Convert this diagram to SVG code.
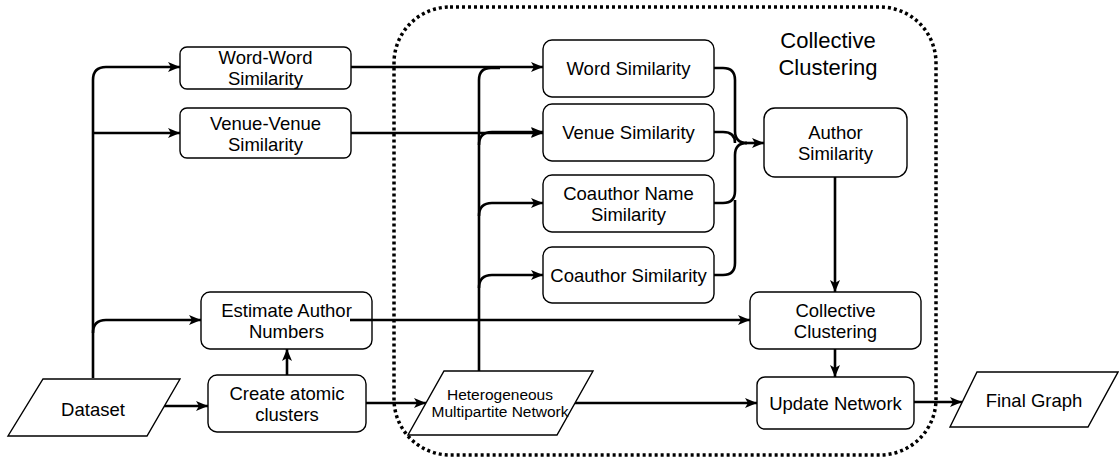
<svg xmlns="http://www.w3.org/2000/svg" width="1119" height="460" viewBox="0 0 1119 460">
  <defs>
    <marker id="arrow" markerUnits="userSpaceOnUse" markerWidth="14" markerHeight="12" refX="12" refY="5" orient="auto">
      <path d="M0,0 L12,5 L0,10 L3,5 Z" fill="#000"/>
    </marker>
    <style>
      .box { fill: #fff; stroke: #000; stroke-width: 1.4; }
      .io { fill: #fff; stroke: #000; stroke-width: 1.4; }
      .lbl { font-family: "Liberation Sans", Arial, sans-serif; font-size: 18.5px; fill: #000; text-anchor: middle; }
      .small { font-size: 15.5px; }
      .title { font-size: 22px; }
      .edge { fill: none; stroke: #000; stroke-width: 2.6; }
      .arr { marker-end: url(#arrow); }
      .group { fill: none; stroke: #000; stroke-width: 3.5; stroke-dasharray: 3 3; }
    </style>
  </defs>

  <rect width="1119" height="460" fill="#fff"/>

  <!-- dotted container for the collective clustering stage -->
  <g id="collective-clustering-group">
    <rect class="group" x="394" y="7" width="542" height="448" rx="56" ry="56"/>
    <text class="lbl title" x="828" y="48">Collective</text>
    <text class="lbl title" x="828" y="75">Clustering</text>
  </g>

  <g id="connectors">
    <!-- Dataset fan-out -->
    <path class="edge arr" d="M93,378 V80 Q93,67 106,67 H180"/>
    <path class="edge arr" d="M93,133 H180"/>
    <path class="edge arr" d="M93,333 Q93,320 106,320 H201"/>
    <path class="edge arr" d="M164,406 H208"/>
    <!-- atomic clusters -->
    <path class="edge arr" d="M287,375 V349"/>
    <path class="edge arr" d="M366,403 H426"/>
    <!-- pairwise similarities into the group -->
    <path class="edge arr" d="M351,67 H543"/>
    <path class="edge arr" d="M351,133 H543"/>
    <!-- network branches -->
    <path class="edge" d="M479,371 V80 Q479,68 491,68 H500"/>
    <path class="edge arr" d="M479,145 Q479,132 492,132 H543"/>
    <path class="edge arr" d="M479,216 Q479,203 492,203 H543"/>
    <path class="edge arr" d="M479,288 Q479,275 492,275 H543"/>
    <!-- similarities merging into author similarity -->
    <path class="edge" d="M714,68 H723 Q735,68 735,80 V131 Q735,143 747,143"/>
    <path class="edge" d="M714,132 H723 Q735,132 735,143"/>
    <path class="edge" d="M714,203 H723 Q735,203 735,191 V155 Q735,143 747,143"/>
    <path class="edge" d="M714,275 H723 Q735,275 735,263 V200"/>
    <path class="edge arr" d="M745,143 H764"/>
    <!-- clustering chain -->
    <path class="edge arr" d="M350,320 H750"/>
    <path class="edge arr" d="M835,177 V292"/>
    <path class="edge arr" d="M835,349 V377"/>
    <path class="edge arr" d="M575,403 H757"/>
    <path class="edge arr" d="M914,402 H962"/>
  </g>

  <g id="dataset">
    <polygon class="io" points="43,379 180,379 147,436 8,436"/>
    <text class="lbl" x="93" y="416">Dataset</text>
  </g>

  <g id="word-word-similarity">
    <rect class="box" x="180" y="47" width="171" height="42" rx="7"/>
    <text class="lbl" x="265.5" y="64">Word-Word</text>
    <text class="lbl" x="265.5" y="85">Similarity</text>
  </g>

  <g id="venue-venue-similarity">
    <rect class="box" x="180" y="108" width="171" height="50" rx="7"/>
    <text class="lbl" x="265.5" y="130">Venue-Venue</text>
    <text class="lbl" x="265.5" y="151">Similarity</text>
  </g>

  <g id="estimate-author-numbers">
    <rect class="box" x="201" y="292" width="171" height="57" rx="9"/>
    <text class="lbl" x="286.5" y="316.5">Estimate Author</text>
    <text class="lbl" x="286.5" y="337.5">Numbers</text>
  </g>
  <!-- the outgoing edge starts inside the box, over its label -->
  <path class="edge" d="M350,320 H372"/>

  <g id="create-atomic-clusters">
    <rect class="box" x="208" y="375" width="158" height="57" rx="9"/>
    <text class="lbl" x="287" y="400">Create atomic</text>
    <text class="lbl" x="287" y="421">clusters</text>
  </g>

  <g id="heterogeneous-network">
    <polygon class="io" points="444,371 593,371 557,435 408,435"/>
    <text class="lbl small" x="500" y="400">Heterogeneous</text>
    <text class="lbl small" x="500" y="417">Multipartite Network</text>
  </g>

  <g id="word-similarity">
    <rect class="box" x="543" y="40" width="171" height="57" rx="9"/>
    <text class="lbl" x="628.5" y="75">Word Similarity</text>
  </g>

  <g id="venue-similarity">
    <rect class="box" x="543" y="104" width="171" height="57" rx="9"/>
    <text class="lbl" x="628.5" y="139">Venue Similarity</text>
  </g>

  <g id="coauthor-name-similarity">
    <rect class="box" x="543" y="175" width="171" height="57" rx="9"/>
    <text class="lbl" x="628.5" y="200">Coauthor Name</text>
    <text class="lbl" x="628.5" y="221">Similarity</text>
  </g>

  <g id="coauthor-similarity">
    <rect class="box" x="543" y="247" width="171" height="56" rx="9"/>
    <text class="lbl" x="628.5" y="281.5">Coauthor Similarity</text>
  </g>

  <g id="author-similarity">
    <rect class="box" x="764" y="108" width="143" height="69" rx="11"/>
    <text class="lbl" x="835.5" y="138.5">Author</text>
    <text class="lbl" x="835.5" y="159.5">Similarity</text>
  </g>

  <g id="collective-clustering">
    <rect class="box" x="750" y="292" width="171" height="57" rx="9"/>
    <text class="lbl" x="835.5" y="317">Collective</text>
    <text class="lbl" x="835.5" y="338">Clustering</text>
  </g>

  <g id="update-network">
    <rect class="box" x="757" y="377" width="157" height="52" rx="8"/>
    <text class="lbl" x="835.5" y="409.5">Update Network</text>
  </g>

  <g id="final-graph">
    <polygon class="io" points="977,372 1118,372 1088,427 950,427"/>
    <text class="lbl" x="1034" y="407">Final Graph</text>
  </g>
</svg>
